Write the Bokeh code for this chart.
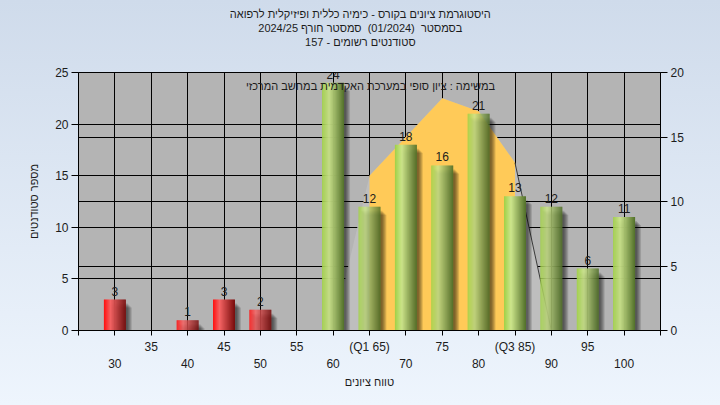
from bokeh.plotting import figure
from bokeh.models import (Range1d, LinearAxis, FixedTicker, Grid, Label, Title,
                          ColumnDataSource, LabelSet)
from bokeh.embed import file_html
from bokeh.resources import INLINE
from bokeh.core.properties import value

# ---- data -------------------------------------------------------------
bins = [30, 35, 40, 45, 50, 55, 60, 65, 70, 75, 80, 85, 90, 95, 100]
counts = [3, 0, 1, 3, 2, 0, 24, 12, 18, 16, 21, 13, 12, 6, 11]
fail_limit = 55            # bins below this are drawn in red

curve_x = [60, 65, 70, 75, 80, 85, 90]
curve_y = [0, 12, 15, 18, 17, 13, 0]   # read on the right-hand axis
q1, q3 = 65, 85

title_lines = [
    "היסטוגרמת ציונים בקורס - כימיה כללית ופיזיקלית לרפואה",
    "בסמסטר  (01/2024)  סמסטר חורף 2024/25",
    "סטודנטים רשומים - 157",
]
note_text = "במשימה : ציון סופי במערכת האקדמית במחשב המרכזי"
x_title = "טווח ציונים"
y_title = "מספר סטודנטים"

upper_row = {35: "35", 45: "45", 55: "55", 65: "(Q1 65)", 75: "75", 85: "(Q3 85)", 95: "95"}
lower_row = [30, 40, 50, 60, 70, 80, 90, 100]

left_ticks = [0, 5, 10, 15, 20, 25]
right_ticks = [0, 5, 10, 15, 20]

# ---- layout -----------------------------------------------------------
W, H = 720, 405
BL, BR, BT, BB = 78, 60, 72, 75
FW, FH = W - BL - BR, H - BT - BB
X0, X1 = 25, 105
Y0, Y1 = 0, 25
px_x = FW / (X1 - X0)
px_y = FH / (Y1 - Y0)

FONT = "Liberation Sans"
TXT = "#1c1c1c"
NBSP = "\u00a0"

p = figure(width=W, height=H, x_range=Range1d(X0, X1), y_range=Range1d(Y0, Y1),
           x_axis_location=None, y_axis_location=None,
           output_backend="svg", toolbar_location=None,
           min_border_left=BL, min_border_right=BR,
           min_border_top=BT, min_border_bottom=BB)
p.extra_y_ranges = {"right": Range1d(0, 20)}
p.background_fill_color = "#b4b4b4"
p.border_fill_color = None
p.outline_line_color = "black"
p.styles = {"background": "linear-gradient(to bottom, #cfdbeb 0%, #eef5fd 100%)"}
p.xgrid.visible = False
p.ygrid.visible = False

# ---- titles (stacked upwards from the frame) ---------------------------
# an invisible spacer keeps the three lines clear of the frame; trailing
# no-break spaces pull the frame-centred text back over the canvas centre
pad = NBSP * 6
p.add_layout(Title(text=NBSP, standoff=22, text_font_size="1px"), "above")
for line in reversed(title_lines):
    p.add_layout(Title(text=line.replace("  ", NBSP + " ") + pad, align="center",
                       standoff=0, text_font=FONT, text_font_size="11px",
                       text_font_style="normal", text_color=TXT), "above")

# ---- axes -------------------------------------------------------------
def style_axis(ax):
    ax.major_label_text_font = FONT
    ax.major_label_text_font_size = "12px"
    ax.major_label_text_color = TXT
    ax.axis_label_text_font = FONT
    ax.axis_label_text_font_size = "11px"
    ax.axis_label_text_font_style = "normal"
    ax.axis_label_text_color = TXT
    ax.minor_tick_line_color = None
    ax.major_tick_in = 0
    ax.axis_line_color = "black"
    ax.major_tick_line_color = "black"

ly = LinearAxis(ticker=FixedTicker(ticks=left_ticks), axis_label=y_title)
style_axis(ly)
ly.major_tick_out = 7
ly.major_label_standoff = 3
ly.axis_label_standoff = 12
p.add_layout(ly, "left")

ry = LinearAxis(y_range_name="right", ticker=FixedTicker(ticks=right_ticks))
style_axis(ry)
ry.major_tick_out = 7
ry.major_label_standoff = 3
p.add_layout(ry, "right")

all_ticks = list(range(X0, X1 + 1, 5))
xa1 = LinearAxis(ticker=FixedTicker(ticks=all_ticks),
                 major_label_overrides={t: upper_row.get(t, "") for t in all_ticks})
style_axis(xa1)
xa1.major_tick_out = 5
xa1.major_label_standoff = 4
p.add_layout(xa1, "below")

xa2 = LinearAxis(ticker=FixedTicker(ticks=lower_row), axis_label=x_title)
style_axis(xa2)
xa2.axis_line_color = None
xa2.major_tick_line_color = None
xa2.major_tick_out = 0
xa2.major_label_standoff = 2
xa2.axis_label_standoff = 5
p.add_layout(xa2, "below")

# ---- grid -------------------------------------------------------------
for g in (Grid(dimension=0, ticker=FixedTicker(ticks=bins)),
          Grid(dimension=1, ticker=FixedTicker(ticks=left_ticks)),
          Grid(dimension=1, ticker=FixedTicker(ticks=right_ticks), y_range_name="right")):
    g.grid_line_color = "black"
    g.grid_line_width = 1
    p.add_layout(g)

# ---- distribution curve (right axis) ----------------------------------
p.varea(x=curve_x, y1=0, y2=curve_y, y_range_name="right", fill_color="#bebebe")
iq = [i for i, x in enumerate(curve_x) if q1 <= x <= q3]
p.varea(x=[curve_x[i] for i in iq], y1=0, y2=[curve_y[i] for i in iq],
        y_range_name="right", fill_color="#ffca58")
tail = [i for i, x in enumerate(curve_x) if x >= q3]
p.line([curve_x[i] for i in tail], [curve_y[i] for i in tail],
       y_range_name="right", line_color="#3a3a3a", line_width=1)

# ---- bars: soft drop shadow, then cylinder-shaded bars ----------------
BAR_W = 3.0
for k in (2, 3, 4, 5, 6):
    xs = [b + k / px_x for b, c in zip(bins, counts) if c > 0]
    tops = [max(c - (k + 2) / px_y, 0) for c in counts if c > 0]
    p.vbar(x=xs, width=BAR_W, top=tops, bottom=0, fill_color="black",
           fill_alpha=0.13, line_color=None)

red_stops = [(0.0, (255, 15, 15)), (0.3, (245, 100, 100)), (1.0, (120, 12, 12))]
green_stops = [(0.0, (160, 208, 70)), (0.32, (205, 230, 140)), (1.0, (82, 112, 42))]

def shade(stops, t):
    for (t0, c0), (t1, c1) in zip(stops, stops[1:]):
        if t <= t1:
            f = (t - t0) / (t1 - t0)
            return "#%02x%02x%02x" % tuple(round(a + (b - a) * f) for a, b in zip(c0, c1))
    return "#%02x%02x%02x" % stops[-1][1]

N = 22
sx, sw, st, sc = [], [], [], []
for b, c in zip(bins, counts):
    if c <= 0:
        continue
    stops = red_stops if b < fail_limit else green_stops
    for i in range(N):
        t = (i + 0.5) / N
        sx.append(b - BAR_W / 2 + BAR_W * t)
        sw.append(BAR_W / N * 1.15)
        st.append(c)
        sc.append(shade(stops, t))
p.vbar(x="x", width="w", top="top", bottom=0, fill_color="color", line_color=None,
       source=ColumnDataSource(dict(x=sx, w=sw, top=st, color=sc)))

# ---- value labels -----------------------------------------------------
lab_src = ColumnDataSource(dict(x=[b for b, c in zip(bins, counts) if c > 0],
                                y=[c for c in counts if c > 0],
                                t=[str(c) for c in counts if c > 0]))
p.add_layout(LabelSet(x="x", y="y", text="t", source=lab_src, y_offset=4,
                      text_align="center", text_baseline="bottom",
                      text_font=value(FONT), text_font_size="12px", text_color=TXT))

# ---- note inside the plot ---------------------------------------------
p.add_layout(Label(x=370 - BL, y=BT + FH - 85, x_units="screen", y_units="screen",
                   text=note_text, text_align="center", text_baseline="middle",
                   text_font=FONT, text_font_size="11px", text_color=TXT))

open("out.html", "w").write(file_html(p, INLINE))
